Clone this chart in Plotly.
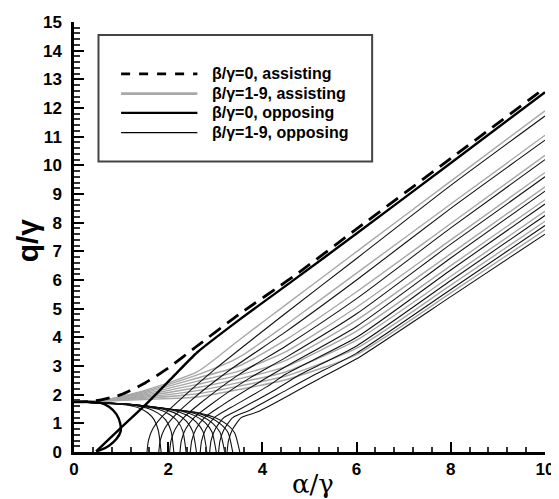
import plotly.graph_objects as go

# ---- data ----
# beta/gamma = 0, assisting (dashed)
a0_assist_x = [0, 0.3, 0.6, 1.0, 1.5, 2.0, 2.6, 3.5, 4.64, 6, 8, 10]
a0_assist_q = [1.75, 1.76, 1.83, 2.0, 2.4, 2.93, 3.68, 4.8, 6.1, 7.78, 10.24, 12.7]

# beta/gamma = 0, opposing (thick): closed C branch and rising branch
a0_opp_c_x = [0, 0.3, 0.55, 0.75, 0.9, 0.98, 0.99, 0.9, 0.75, 0.58, 0.47]
a0_opp_c_q = [1.75, 1.75, 1.72, 1.57, 1.32, 1.0, 0.72, 0.45, 0.23, 0.08, 0.02]
a0_opp_r_x = [0.47, 1.0, 1.58, 2.1, 2.62, 3.5, 4.64, 6, 8, 10]
a0_opp_r_q = [0.02, 0.85, 1.75, 2.62, 3.48, 4.6, 5.97, 7.62, 10.08, 12.55]

# beta/gamma = 1..9, assisting (grey)
assist_x = [0, 0.6, 1.5, 2.62, 3.5, 4.5, 6, 8, 10]
assist_q = [
    [1.75, 1.80, 2.15, 2.80, 3.90, 5.14, 6.99, 9.45, 11.90],
    [1.75, 1.80, 2.11, 2.69, 3.30, 4.44, 6.24, 8.65, 11.05],
    [1.75, 1.79, 2.07, 2.58, 3.00, 3.92, 5.59, 7.97, 10.35],
    [1.75, 1.79, 2.03, 2.47, 2.82, 3.50, 5.05, 7.40, 9.75],
    [1.75, 1.79, 1.99, 2.36, 2.68, 3.20, 4.60, 6.92, 9.25],
    [1.75, 1.78, 1.95, 2.25, 2.55, 2.98, 4.22, 6.50, 8.80],
    [1.75, 1.78, 1.91, 2.14, 2.42, 2.80, 3.90, 6.13, 8.40],
    [1.75, 1.78, 1.87, 2.03, 2.30, 2.65, 3.62, 5.82, 8.05],
    [1.75, 1.77, 1.83, 1.92, 2.18, 2.52, 3.40, 5.55, 7.75],
]

# beta/gamma = 1..9, opposing (thin): upper fan branch ending on the axis
opp_fan_x = [
    [0, 0.74, 1.11, 1.39, 1.57, 1.70, 1.79, 1.85],
    [0, 0.85, 1.27, 1.59, 1.80, 1.95, 2.06, 2.12],
    [0, 0.95, 1.43, 1.79, 2.02, 2.19, 2.31, 2.38],
    [0, 1.04, 1.56, 1.95, 2.21, 2.39, 2.52, 2.60],
    [0, 1.13, 1.69, 2.12, 2.40, 2.59, 2.74, 2.82],
    [0, 1.21, 1.81, 2.27, 2.57, 2.78, 2.93, 3.02],
    [0, 1.28, 1.92, 2.40, 2.72, 2.94, 3.10, 3.20],
    [0, 1.35, 2.02, 2.53, 2.86, 3.10, 3.27, 3.37],
    [0, 1.41, 2.11, 2.64, 2.99, 3.24, 3.41, 3.52],
]
opp_fan_q = [
    [1.75, 1.71, 1.64, 1.53, 1.36, 1.13, 0.75, 0],
    [1.75, 1.70, 1.62, 1.51, 1.34, 1.11, 0.74, 0],
    [1.75, 1.69, 1.60, 1.49, 1.32, 1.09, 0.73, 0],
    [1.75, 1.68, 1.58, 1.47, 1.30, 1.07, 0.72, 0],
    [1.75, 1.67, 1.56, 1.45, 1.28, 1.05, 0.71, 0],
    [1.75, 1.66, 1.54, 1.43, 1.26, 1.03, 0.70, 0],
    [1.75, 1.65, 1.52, 1.41, 1.24, 1.01, 0.69, 0],
    [1.75, 1.64, 1.50, 1.39, 1.22, 0.99, 0.68, 0],
    [1.75, 1.63, 1.48, 1.37, 1.20, 0.97, 0.67, 0],
]
# beta/gamma = 1..9, opposing (thin): rising branch from the axis
opp_rise_x = [
    [1.55, 1.58, 1.67, 1.85, 2.20, 3.00, 4.50, 6, 8, 10],
    [1.80, 1.83, 1.92, 2.10, 2.45, 3.30, 4.50, 6, 8, 10],
    [2.03, 2.06, 2.15, 2.33, 2.68, 3.50, 4.50, 6, 8, 10],
    [2.25, 2.28, 2.37, 2.55, 2.90, 3.70, 4.50, 6, 8, 10],
    [2.47, 2.50, 2.59, 2.77, 3.12, 3.90, 4.50, 6, 8, 10],
    [2.68, 2.71, 2.80, 2.98, 3.33, 4.10, 4.50, 6, 8, 10],
    [2.88, 2.91, 3.00, 3.18, 3.53, 4.30, 4.80, 6, 8, 10],
    [3.07, 3.10, 3.19, 3.37, 3.72, 4.50, 5.00, 6, 8, 10],
    [3.25, 3.28, 3.37, 3.55, 3.90, 4.70, 5.20, 6, 8, 10],
]
opp_rise_q = [
    [0, 0.4, 0.8, 1.2, 1.75, 2.90, 4.85, 6.75, 9.30, 11.72],
    [0, 0.4, 0.8, 1.2, 1.75, 2.85, 4.20, 6.00, 8.50, 10.88],
    [0, 0.4, 0.8, 1.2, 1.70, 2.70, 3.70, 5.35, 7.82, 10.20],
    [0, 0.4, 0.8, 1.2, 1.65, 2.55, 3.30, 4.82, 7.25, 9.60],
    [0, 0.4, 0.8, 1.2, 1.60, 2.40, 2.98, 4.38, 6.77, 9.10],
    [0, 0.4, 0.8, 1.2, 1.55, 2.28, 2.72, 4.00, 6.35, 8.65],
    [0, 0.4, 0.8, 1.2, 1.50, 2.20, 2.70, 3.70, 5.98, 8.25],
    [0, 0.4, 0.8, 1.2, 1.45, 2.15, 2.60, 3.45, 5.67, 7.90],
    [0, 0.4, 0.8, 1.2, 1.40, 2.10, 2.55, 3.25, 5.42, 7.60],
]

legend_labels = ["\u03b2/\u03b3=0, assisting", "\u03b2/\u03b3=1-9, assisting",
                 "\u03b2/\u03b3=0, opposing", "\u03b2/\u03b3=1-9, opposing"]

x_ticks = [0, 2, 4, 6, 8, 10]
y_ticks = list(range(0, 16))

GREY = "#a8a8a8"
fig = go.Figure()

def add(x, y, color, width, dash="solid", smooth=0.6):
    fig.add_trace(go.Scatter(x=x, y=y, mode="lines",
                             line=dict(color=color, width=width, dash=dash,
                                       shape="spline", smoothing=smooth),
                             showlegend=False, hoverinfo="skip", cliponaxis=True))

for q in assist_q:
    add(assist_x, q, GREY, 1.4)
for fx, fq in zip(opp_fan_x, opp_fan_q):
    add(fx, fq, "#111111", 1.1)
for rx, rq in zip(opp_rise_x, opp_rise_q):
    add(rx, rq, "#111111", 1.1)
add(a0_opp_c_x, a0_opp_c_q, "#000000", 2.4)
add(a0_opp_r_x, a0_opp_r_q, "#000000", 2.4)
add(a0_assist_x, a0_assist_q, "#000000", 2.8, dash="14px,8px")

# legend box (decoration)
fig.add_shape(type="rect", xref="x", yref="y", x0=0.52, x1=6.33, y0=10.13, y1=14.55,
              line=dict(color="#444444", width=2), fillcolor="white", layer="above")
leg_rows = [13.19, 12.50, 11.83, 11.14]
leg_styles = [("#000000", 2.6, "dash"), (GREY, 2.6, "solid"),
              ("#000000", 2.4, "solid"), ("#000000", 1.3, "solid")]
for yy, (c, w, d), lab in zip(leg_rows, leg_styles, legend_labels):
    fig.add_shape(type="line", xref="x", yref="y", x0=1.0, x1=2.62, y0=yy, y1=yy,
                  line=dict(color=c, width=w, dash=d), layer="above")
    fig.add_annotation(x=2.88, y=yy, xref="x", yref="y", text=lab, showarrow=False,
                       xanchor="left", yanchor="middle",
                       font=dict(family="Liberation Sans", size=16, color="black", weight="bold"))

# page body has an 8px margin: figure is placed at (8, 8) in the window
W, H = 551, 491
L, T = 66, 7          # plot area left / top inside the figure
PW, PH = 480, 437     # plot area size
fig.update_layout(
    width=W, height=H,
    margin=dict(l=L, r=W - L - PW, t=T, b=H - T - PH),
    plot_bgcolor="white", paper_bgcolor="white",
    showlegend=False,
)
fig.update_xaxes(range=[0, 10], tickvals=x_ticks, ticktext=[str(v) for v in x_ticks],
                 showgrid=False, zeroline=False, showline=True, linecolor="black", linewidth=2.5,
                 ticks="inside", ticklen=10, tickwidth=2, tickcolor="black",
                 ticklabeloverflow="allow",
                 minor=dict(ticks="inside", ticklen=5, tickwidth=1.5, dtick=0.4, tickcolor="#333"),
                 tickfont=dict(family="Liberation Sans", size=17, color="black", weight="bold"))
fig.update_yaxes(range=[0, 15], tickvals=y_ticks, ticktext=[str(v) for v in y_ticks],
                 showgrid=False, zeroline=False, showline=True, linecolor="black", linewidth=2.5,
                 ticks="inside", ticklen=10, tickwidth=2, tickcolor="black",
                 ticklabeloverflow="allow",
                 minor=dict(ticks="inside", ticklen=6, tickwidth=1.5, dtick=0.2, tickcolor="#333"),
                 ticklabelstandoff=6,
                 tickfont=dict(family="Liberation Sans", size=17, color="black", weight="bold"))

# page coordinates -> paper coordinates of the plot area
def px(xp):
    return (xp - 8 - L) / PW
def py(yp):
    return (T + PH - (yp - 8)) / PH

fig.add_annotation(xref="paper", yref="paper", x=px(318), y=py(485),
                   text="\u03b1/\u03b3", showarrow=False,
                   xanchor="center", yanchor="middle",
                   font=dict(family="DejaVu Serif", size=26, color="black"))
fig.add_annotation(xref="paper", yref="paper", x=px(27), y=py(237),
                   text="q/\u03b3", showarrow=False, textangle=-90,
                   xanchor="center", yanchor="middle",
                   font=dict(family="Liberation Sans", size=30, color="black", weight="bold"))

fig.write_html("out.html")
